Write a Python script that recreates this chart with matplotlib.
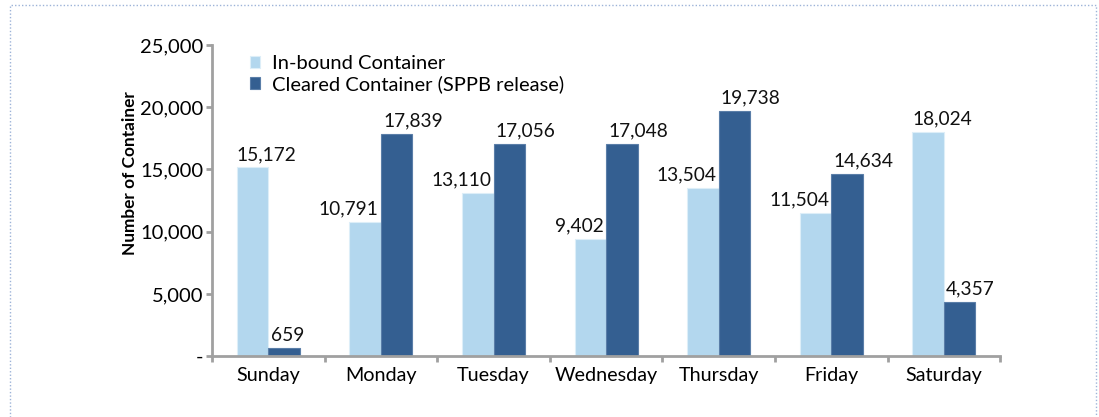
import matplotlib.pyplot as plt
import numpy as np
from matplotlib.patches import Rectangle
from matplotlib.ticker import FuncFormatter

days = ["Sunday", "Monday", "Tuesday", "Wednesday", "Thursday", "Friday", "Saturday"]
inbound = [15172, 10791, 13110, 9402, 13504, 11504, 18024]
cleared = [659, 17839, 17056, 17048, 19738, 14634, 4357]
series_names = ["In-bound Container", "Cleared Container (SPPB release)"]

LIGHT = "#B3D7EE"
DARK = "#345F91"
GRAY = "#A0A0A0"

plt.rcParams["font.family"] = ["Lato", "DejaVu Sans"]

fig = plt.figure(figsize=(10.99, 4.17), dpi=100)
ax = fig.add_axes([0.193, 0.146, 0.717, 0.746])

x = np.arange(len(days))
w = 0.28
b1 = ax.bar(x - w / 2, inbound, w, color=LIGHT, edgecolor="#DDEEF8", linewidth=0.8,
            label=series_names[0])
b2 = ax.bar(x + w / 2, cleared, w, color=DARK, edgecolor="#5A7EA8", linewidth=0.8,
            label=series_names[1])

# labels hug the bar edge away from the neighbouring taller bar
for bar_in, bar_cl, vi, vc in zip(b1, b2, inbound, cleared):
    if vi < vc:
        ax.text(bar_in.get_x() + bar_in.get_width() - 0.02, vi + 350, f"{vi:,}",
                ha="right", va="bottom", fontsize=13.8, color="#111111")
    else:
        ax.text(bar_in.get_x(), vi + 350, f"{vi:,}",
                ha="left", va="bottom", fontsize=13.8, color="#111111")
    ax.text(bar_cl.get_x() + 0.02, vc + 350, f"{vc:,}",
            ha="left", va="bottom", fontsize=13.8, color="#111111")

ax.set_xlim(-0.5, len(days) - 0.5)
ax.set_ylim(0, 25000)
ax.set_yticks(range(0, 25001, 5000))
ax.yaxis.set_major_formatter(FuncFormatter(lambda v, p: "-" if v == 0 else f"{int(v):,}"))
ax.set_xticks(x)
ax.set_xticklabels(days)
ax.set_xticks(np.arange(-0.5, len(days), 1), minor=True)
ax.tick_params(axis="x", which="major", length=0, pad=8, labelsize=14.2)
ax.tick_params(axis="x", which="minor", length=4, width=2, color=GRAY, direction="out")
ax.tick_params(axis="y", length=4.5, width=2, color=GRAY, direction="out", pad=2,
               labelsize=14.5)

for s in ("top", "right"):
    ax.spines[s].set_visible(False)
for s in ("left", "bottom"):
    ax.spines[s].set_color(GRAY)
    ax.spines[s].set_linewidth(2)

ax.set_ylabel("Number of Container", fontsize=12.4, fontweight="bold")
ax.yaxis.set_label_coords(-0.094, 0.59)

leg = ax.legend(loc="upper left", bbox_to_anchor=(0.025, 1.025), frameon=False,
                fontsize=14.5, handlelength=0.5, handleheight=0.5, handletextpad=0.6,
                labelspacing=0.15)

fig.patches.append(Rectangle((0.009, -0.1), 0.988, 1.088, transform=fig.transFigure,
                             fill=False, edgecolor="#9DB3D8", linestyle=(0, (1, 1.5)),
                             linewidth=1))

fig.savefig("out.png", dpi=100)
